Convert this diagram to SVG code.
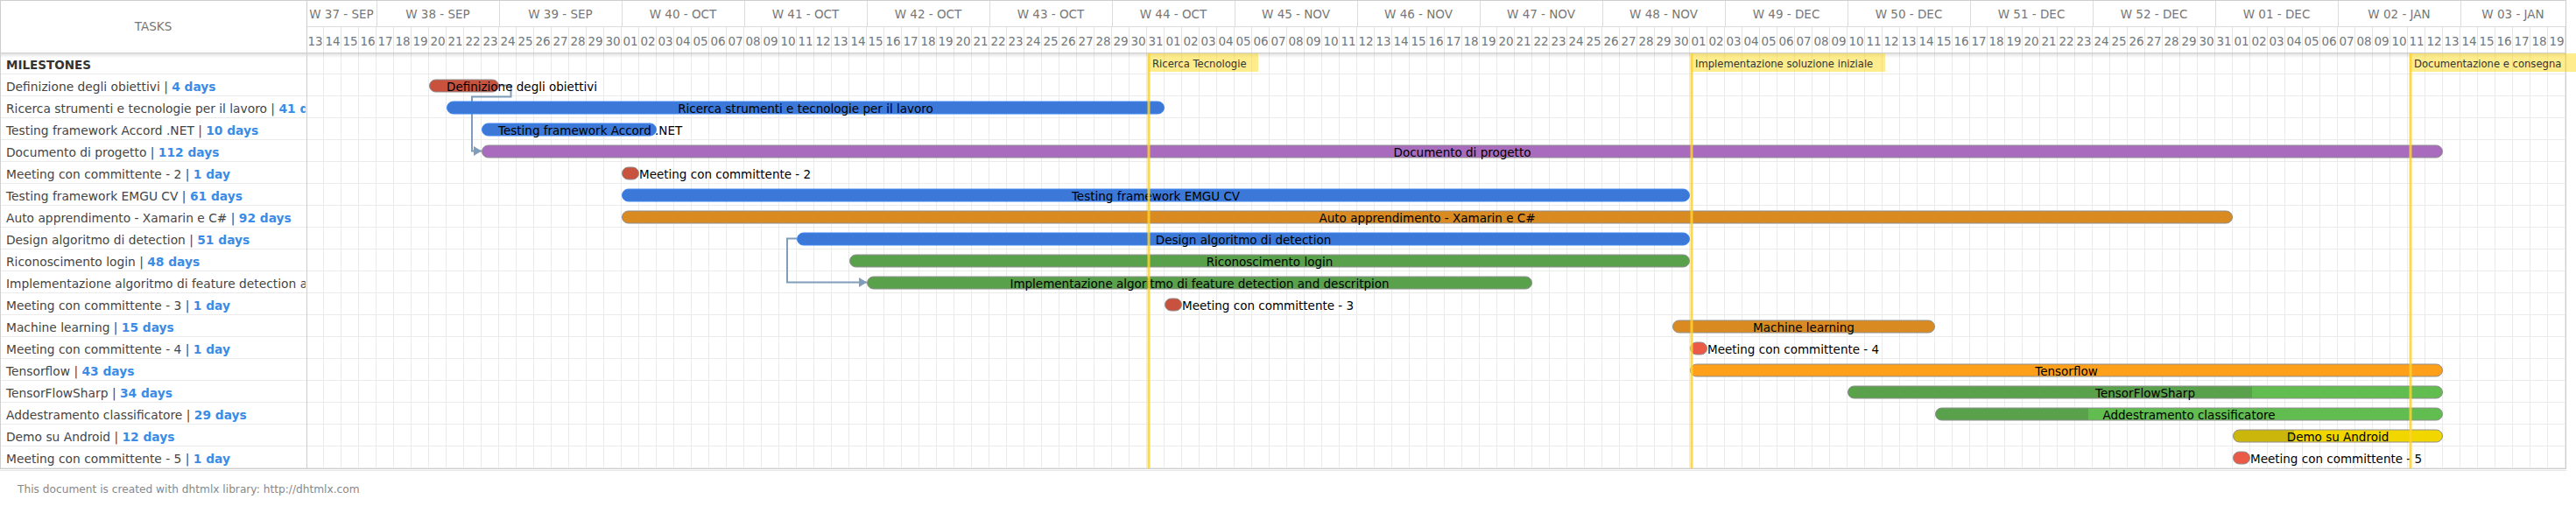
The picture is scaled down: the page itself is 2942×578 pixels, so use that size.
<svg xmlns="http://www.w3.org/2000/svg" width="2942" height="578" viewBox="0 0 2942 578">
<style>
text{font-family:"DejaVu Sans","Liberation Sans",sans-serif;font-size:13.5px}
.hd{fill:#777}
.dy{fill:#777;text-anchor:middle}
.wk{fill:#777;text-anchor:middle}
.lbl{fill:#454545;font-size:13.8px}
.days{fill:#3a8ce6;font-weight:bold}
.ms{fill:#333;font-weight:bold}
.bt{fill:#000}
.btc{fill:#000;text-anchor:middle}
.bar{stroke:#8f8f8f;stroke-width:1}
.blue{fill:#3b78d8;stroke:#4287f0;stroke-width:1}
.red{fill:#c9523f}
.red2{fill:#eb5a46}
.purple{fill:#a86bbd}
.orangeD{fill:#d98b22}
.orange{fill:#ff9f1a}
.greenD{fill:#5aa14c}
.green{fill:#61bd4f}
.yellow{fill:#f2d600}
.yellowD{fill:#cbb60b}
.outline{fill:none;stroke:#8f8f8f;stroke-width:1}
.link{fill:none;stroke:#809dba;stroke-width:2}
.mline{stroke:#ffd22e;stroke-opacity:0.85;stroke-width:3}
.mbox{fill:#ffd400;fill-opacity:0.45}
.mtxt{fill:#333;font-size:11.6px}
.foot{fill:#888;font-size:12.2px}
</style>
<defs>
<pattern id="gridBody" patternUnits="userSpaceOnUse" x="350" y="60" width="20" height="25">
<path d="M19.5 0V25M0 24.5H20" stroke="#ebebeb" stroke-width="1" fill="none"/>
</pattern>
<pattern id="gridDays" patternUnits="userSpaceOnUse" x="350" y="30" width="20" height="30">
<path d="M19.5 0V30" stroke="#e4e4e4" stroke-width="1" fill="none"/>
</pattern>
<pattern id="gridLeft" patternUnits="userSpaceOnUse" x="0" y="60" width="350" height="25">
<path d="M0 24.5H350" stroke="#ebebeb" stroke-width="1" fill="none"/>
</pattern>
<linearGradient id="shadow" x1="0" y1="0" x2="0" y2="1">
<stop offset="0" stop-color="#000" stop-opacity="0.12"/>
<stop offset="1" stop-color="#000" stop-opacity="0"/>
</linearGradient>
<clipPath id="leftClip"><rect x="0" y="60" width="349" height="476"/></clipPath>
<marker id="arrow" markerUnits="userSpaceOnUse" markerWidth="10" markerHeight="12" refX="9" refY="6" orient="auto">
<path d="M0 0.5L9 6L0 11.5Z" fill="#809dba"/>
</marker>
</defs>

<rect x="0" y="0" width="2942" height="578" fill="#fff"/>

<g id="grid">
<rect x="350" y="60" width="2580" height="475" fill="url(#gridBody)"/>
<rect x="350" y="30" width="2580" height="30" fill="url(#gridDays)"/>
<rect x="0" y="60" width="350" height="475" fill="url(#gridLeft)"/>
<path d="M350 30.5H2930" stroke="#dcdcdc" stroke-width="1"/>
<path d="M430.5 0V30M570.5 0V30M710.5 0V30M850.5 0V30M990.5 0V30M1130.5 0V30M1270.5 0V30M1410.5 0V30M1550.5 0V30M1690.5 0V30M1830.5 0V30M1970.5 0V30M2110.5 0V30M2250.5 0V30M2390.5 0V30M2530.5 0V30M2670.5 0V30M2810.5 0V30" stroke="#dcdcdc" stroke-width="1"/>
<rect x="0" y="61" width="2930" height="5" fill="url(#shadow)"/>
<path d="M0 60.5H2930" stroke="#cfcfcf" stroke-width="1"/>
<path d="M350.5 0V535" stroke="#cecece" stroke-width="1"/>
<rect x="0.5" y="0.5" width="2930" height="535" fill="none" stroke="#cecece" stroke-width="1"/>
<path d="M0 537.5H2931" stroke="#e6e6e6" stroke-width="1"/>
</g>

<g id="header">
<text class="hd" x="175" y="35" text-anchor="middle">TASKS</text>
<text class="wk" x="390" y="21">W 37 - SEP</text>
<text class="wk" x="500" y="21">W 38 - SEP</text>
<text class="wk" x="640" y="21">W 39 - SEP</text>
<text class="wk" x="780" y="21">W 40 - OCT</text>
<text class="wk" x="920" y="21">W 41 - OCT</text>
<text class="wk" x="1060" y="21">W 42 - OCT</text>
<text class="wk" x="1200" y="21">W 43 - OCT</text>
<text class="wk" x="1340" y="21">W 44 - OCT</text>
<text class="wk" x="1480" y="21">W 45 - NOV</text>
<text class="wk" x="1620" y="21">W 46 - NOV</text>
<text class="wk" x="1760" y="21">W 47 - NOV</text>
<text class="wk" x="1900" y="21">W 48 - NOV</text>
<text class="wk" x="2040" y="21">W 49 - DEC</text>
<text class="wk" x="2180" y="21">W 50 - DEC</text>
<text class="wk" x="2320" y="21">W 51 - DEC</text>
<text class="wk" x="2460" y="21">W 52 - DEC</text>
<text class="wk" x="2600" y="21">W 01 - DEC</text>
<text class="wk" x="2740" y="21">W 02 - JAN</text>
<text class="wk" x="2870" y="21">W 03 - JAN</text>
<g id="days">
<text class="dy" x="360" y="52">13</text><text class="dy" x="380" y="52">14</text><text class="dy" x="400" y="52">15</text><text class="dy" x="420" y="52">16</text><text class="dy" x="440" y="52">17</text><text class="dy" x="460" y="52">18</text><text class="dy" x="480" y="52">19</text><text class="dy" x="500" y="52">20</text><text class="dy" x="520" y="52">21</text><text class="dy" x="540" y="52">22</text><text class="dy" x="560" y="52">23</text><text class="dy" x="580" y="52">24</text><text class="dy" x="600" y="52">25</text><text class="dy" x="620" y="52">26</text><text class="dy" x="640" y="52">27</text><text class="dy" x="660" y="52">28</text><text class="dy" x="680" y="52">29</text><text class="dy" x="700" y="52">30</text>
<text class="dy" x="720" y="52">01</text><text class="dy" x="740" y="52">02</text><text class="dy" x="760" y="52">03</text><text class="dy" x="780" y="52">04</text><text class="dy" x="800" y="52">05</text><text class="dy" x="820" y="52">06</text><text class="dy" x="840" y="52">07</text><text class="dy" x="860" y="52">08</text><text class="dy" x="880" y="52">09</text><text class="dy" x="900" y="52">10</text><text class="dy" x="920" y="52">11</text><text class="dy" x="940" y="52">12</text><text class="dy" x="960" y="52">13</text><text class="dy" x="980" y="52">14</text><text class="dy" x="1000" y="52">15</text><text class="dy" x="1020" y="52">16</text><text class="dy" x="1040" y="52">17</text><text class="dy" x="1060" y="52">18</text><text class="dy" x="1080" y="52">19</text><text class="dy" x="1100" y="52">20</text><text class="dy" x="1120" y="52">21</text><text class="dy" x="1140" y="52">22</text><text class="dy" x="1160" y="52">23</text><text class="dy" x="1180" y="52">24</text><text class="dy" x="1200" y="52">25</text><text class="dy" x="1220" y="52">26</text><text class="dy" x="1240" y="52">27</text><text class="dy" x="1260" y="52">28</text><text class="dy" x="1280" y="52">29</text><text class="dy" x="1300" y="52">30</text><text class="dy" x="1320" y="52">31</text>
<text class="dy" x="1340" y="52">01</text><text class="dy" x="1360" y="52">02</text><text class="dy" x="1380" y="52">03</text><text class="dy" x="1400" y="52">04</text><text class="dy" x="1420" y="52">05</text><text class="dy" x="1440" y="52">06</text><text class="dy" x="1460" y="52">07</text><text class="dy" x="1480" y="52">08</text><text class="dy" x="1500" y="52">09</text><text class="dy" x="1520" y="52">10</text><text class="dy" x="1540" y="52">11</text><text class="dy" x="1560" y="52">12</text><text class="dy" x="1580" y="52">13</text><text class="dy" x="1600" y="52">14</text><text class="dy" x="1620" y="52">15</text><text class="dy" x="1640" y="52">16</text><text class="dy" x="1660" y="52">17</text><text class="dy" x="1680" y="52">18</text><text class="dy" x="1700" y="52">19</text><text class="dy" x="1720" y="52">20</text><text class="dy" x="1740" y="52">21</text><text class="dy" x="1760" y="52">22</text><text class="dy" x="1780" y="52">23</text><text class="dy" x="1800" y="52">24</text><text class="dy" x="1820" y="52">25</text><text class="dy" x="1840" y="52">26</text><text class="dy" x="1860" y="52">27</text><text class="dy" x="1880" y="52">28</text><text class="dy" x="1900" y="52">29</text><text class="dy" x="1920" y="52">30</text>
<text class="dy" x="1940" y="52">01</text><text class="dy" x="1960" y="52">02</text><text class="dy" x="1980" y="52">03</text><text class="dy" x="2000" y="52">04</text><text class="dy" x="2020" y="52">05</text><text class="dy" x="2040" y="52">06</text><text class="dy" x="2060" y="52">07</text><text class="dy" x="2080" y="52">08</text><text class="dy" x="2100" y="52">09</text><text class="dy" x="2120" y="52">10</text><text class="dy" x="2140" y="52">11</text><text class="dy" x="2160" y="52">12</text><text class="dy" x="2180" y="52">13</text><text class="dy" x="2200" y="52">14</text><text class="dy" x="2220" y="52">15</text><text class="dy" x="2240" y="52">16</text><text class="dy" x="2260" y="52">17</text><text class="dy" x="2280" y="52">18</text><text class="dy" x="2300" y="52">19</text><text class="dy" x="2320" y="52">20</text><text class="dy" x="2340" y="52">21</text><text class="dy" x="2360" y="52">22</text><text class="dy" x="2380" y="52">23</text><text class="dy" x="2400" y="52">24</text><text class="dy" x="2420" y="52">25</text><text class="dy" x="2440" y="52">26</text><text class="dy" x="2460" y="52">27</text><text class="dy" x="2480" y="52">28</text><text class="dy" x="2500" y="52">29</text><text class="dy" x="2520" y="52">30</text><text class="dy" x="2540" y="52">31</text>
<text class="dy" x="2560" y="52">01</text><text class="dy" x="2580" y="52">02</text><text class="dy" x="2600" y="52">03</text><text class="dy" x="2620" y="52">04</text><text class="dy" x="2640" y="52">05</text><text class="dy" x="2660" y="52">06</text><text class="dy" x="2680" y="52">07</text><text class="dy" x="2700" y="52">08</text><text class="dy" x="2720" y="52">09</text><text class="dy" x="2740" y="52">10</text><text class="dy" x="2760" y="52">11</text><text class="dy" x="2780" y="52">12</text><text class="dy" x="2800" y="52">13</text><text class="dy" x="2820" y="52">14</text><text class="dy" x="2840" y="52">15</text><text class="dy" x="2860" y="52">16</text><text class="dy" x="2880" y="52">17</text><text class="dy" x="2900" y="52">18</text><text class="dy" x="2920" y="52">19</text>
</g>
</g>

<g id="connectors">
<path class="link" d="M570 97.5H583.5V110.5H539V172.5H550" marker-end="url(#arrow)"/>
<path class="link" d="M910 272.5H899V322.5H990" marker-end="url(#arrow)"/>
</g>

<g id="tasks">
<g id="milestones">
<text class="ms" x="7" y="79">MILESTONES</text>
</g>
<g id="t1">
<text class="lbl" x="7" y="104" clip-path="url(#leftClip)">Definizione degli obiettivi | <tspan class="days">4 days</tspan></text>
<rect class="bar red" x="490.5" y="91" width="79" height="14" rx="7"/>
<text class="bt" x="510" y="103.5">Definizione degli obiettivi</text>
</g>
<g id="t2">
<text class="lbl" x="7" y="129" clip-path="url(#leftClip)">Ricerca strumenti e tecnologie per il lavoro | <tspan class="days">41 days</tspan></text>
<rect class="blue" x="510.5" y="116" width="819" height="14" rx="7"/>
<text class="btc" x="920" y="128.5">Ricerca strumenti e tecnologie per il lavoro</text>
</g>
<g id="t3">
<text class="lbl" x="7" y="154" clip-path="url(#leftClip)">Testing framework Accord .NET | <tspan class="days">10 days</tspan></text>
<rect class="blue" x="550.5" y="141" width="199" height="14" rx="7"/>
<text class="bt" x="569" y="153.5">Testing framework Accord .NET</text>
</g>
<g id="t4">
<text class="lbl" x="7" y="179" clip-path="url(#leftClip)">Documento di progetto | <tspan class="days">112 days</tspan></text>
<rect class="bar purple" x="550.5" y="166" width="2239" height="14" rx="7"/>
<text class="btc" x="1670" y="178.5">Documento di progetto</text>
</g>
<g id="t5">
<text class="lbl" x="7" y="204" clip-path="url(#leftClip)">Meeting con committente - 2 | <tspan class="days">1 day</tspan></text>
<rect class="bar red" x="710.5" y="191" width="19" height="14" rx="7"/>
<text class="bt" x="730" y="203.5">Meeting con committente - 2</text>
</g>
<g id="t6">
<text class="lbl" x="7" y="229" clip-path="url(#leftClip)">Testing framework EMGU CV | <tspan class="days">61 days</tspan></text>
<rect class="blue" x="710.5" y="216" width="1219" height="14" rx="7"/>
<text class="btc" x="1320" y="228.5">Testing framework EMGU CV</text>
</g>
<g id="t7">
<text class="lbl" x="7" y="254" clip-path="url(#leftClip)">Auto apprendimento - Xamarin e C# | <tspan class="days">92 days</tspan></text>
<rect class="bar orangeD" x="710.5" y="241" width="1839" height="14" rx="7"/>
<text class="btc" x="1630" y="253.5">Auto apprendimento - Xamarin e C#</text>
</g>
<g id="t8">
<text class="lbl" x="7" y="279" clip-path="url(#leftClip)">Design algoritmo di detection | <tspan class="days">51 days</tspan></text>
<rect class="blue" x="910.5" y="266" width="1019" height="14" rx="7"/>
<text class="btc" x="1420" y="278.5">Design algoritmo di detection</text>
</g>
<g id="t9">
<text class="lbl" x="7" y="304" clip-path="url(#leftClip)">Riconoscimento login | <tspan class="days">48 days</tspan></text>
<rect class="bar greenD" x="970.5" y="291" width="959" height="14" rx="7"/>
<text class="btc" x="1450" y="303.5">Riconoscimento login</text>
</g>
<g id="t10">
<text class="lbl" x="7" y="329" clip-path="url(#leftClip)">Implementazione algoritmo di feature detection and descritpion | <tspan class="days">38 days</tspan></text>
<rect class="bar greenD" x="990.5" y="316" width="759" height="14" rx="7"/>
<text class="btc" x="1370" y="328.5">Implementazione algoritmo di feature detection and descritpion</text>
</g>
<g id="t11">
<text class="lbl" x="7" y="354" clip-path="url(#leftClip)">Meeting con committente - 3 | <tspan class="days">1 day</tspan></text>
<rect class="bar red" x="1330.5" y="341" width="19" height="14" rx="7"/>
<text class="bt" x="1350" y="353.5">Meeting con committente - 3</text>
</g>
<g id="t12">
<text class="lbl" x="7" y="379" clip-path="url(#leftClip)">Machine learning | <tspan class="days">15 days</tspan></text>
<rect class="bar orangeD" x="1910.5" y="366" width="299" height="14" rx="7"/>
<text class="btc" x="2060" y="378.5">Machine learning</text>
</g>
<g id="t13">
<text class="lbl" x="7" y="404" clip-path="url(#leftClip)">Meeting con committente - 4 | <tspan class="days">1 day</tspan></text>
<rect class="bar red2" x="1930.5" y="391" width="19" height="14" rx="7"/>
<text class="bt" x="1950" y="403.5">Meeting con committente - 4</text>
</g>
<g id="t14">
<text class="lbl" x="7" y="429" clip-path="url(#leftClip)">Tensorflow | <tspan class="days">43 days</tspan></text>
<rect class="bar orange" x="1930.5" y="416" width="859" height="14" rx="7"/>
<text class="btc" x="2360" y="428.5">Tensorflow</text>
</g>
<g id="t15">
<text class="lbl" x="7" y="454" clip-path="url(#leftClip)">TensorFlowSharp | <tspan class="days">34 days</tspan></text>
<rect class="green" x="2110.5" y="441" width="679" height="14" rx="7"/>
<path class="greenD" d="M2117.5 441H2572V455H2117.5A7 7 0 0 1 2117.5 441Z"/>
<rect class="outline" x="2110.5" y="441" width="679" height="14" rx="7"/>
<text class="btc" x="2450" y="453.5">TensorFlowSharp</text>
</g>
<g id="t16">
<text class="lbl" x="7" y="479" clip-path="url(#leftClip)">Addestramento classificatore | <tspan class="days">29 days</tspan></text>
<rect class="green" x="2210.5" y="466" width="579" height="14" rx="7"/>
<path class="greenD" d="M2217.5 466H2385V480H2217.5A7 7 0 0 1 2217.5 466Z"/>
<rect class="outline" x="2210.5" y="466" width="579" height="14" rx="7"/>
<text class="btc" x="2500" y="478.5">Addestramento classificatore</text>
</g>
<g id="t17">
<text class="lbl" x="7" y="504" clip-path="url(#leftClip)">Demo su Android | <tspan class="days">12 days</tspan></text>
<rect class="yellow" x="2550.5" y="491" width="239" height="14" rx="7"/>
<path class="yellowD" d="M2557.5 491H2620V505H2557.5A7 7 0 0 1 2557.5 491Z"/>
<rect class="outline" x="2550.5" y="491" width="239" height="14" rx="7"/>
<text class="btc" x="2670" y="503.5">Demo su Android</text>
</g>
<g id="t18">
<text class="lbl" x="7" y="529" clip-path="url(#leftClip)">Meeting con committente - 5 | <tspan class="days">1 day</tspan></text>
<rect class="bar red2" x="2550.5" y="516" width="19" height="14" rx="7"/>
<text class="bt" x="2570" y="528.5">Meeting con committente - 5</text>
</g>
</g>

<g id="markers">
<g id="m1">
<rect class="mbox" x="1311" y="61" width="126" height="21"/>
<line class="mline" x1="1312" y1="61" x2="1312" y2="535"/>
<text class="mtxt" x="1316" y="77">Ricerca Tecnologie</text>
</g>
<g id="m2">
<rect class="mbox" x="1931" y="61" width="222" height="21"/>
<line class="mline" x1="1932" y1="61" x2="1932" y2="535"/>
<text class="mtxt" x="1936" y="77">Implementazione soluzione iniziale</text>
</g>
<g id="m3">
<rect class="mbox" x="2752" y="61" width="195" height="21"/>
<line class="mline" x1="2753" y1="61" x2="2753" y2="535"/>
<text class="mtxt" x="2757" y="77">Documentazione e consegna</text>
</g>
</g>

<text class="foot" x="20" y="563">This document is created with dhtmlx library: http://dhtmlx.com</text>
</svg>
